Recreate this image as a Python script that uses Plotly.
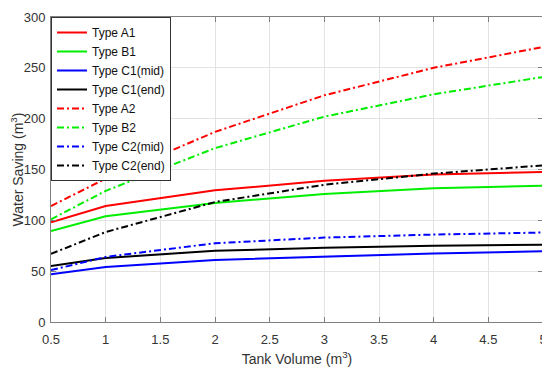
import plotly.graph_objects as go

tank_volume = [0.5, 1, 2, 3, 4, 5]
type_a1 = [98, 114, 129.5, 139, 145, 147.5]
type_b1 = [89.5, 104, 117, 126, 131.5, 134]
type_c1_mid = [47, 54, 61, 64.5, 67.5, 69.5]
type_c1_end = [55, 63, 70, 73, 75, 76]
type_a2 = [114, 141, 187, 223, 250, 270.5]
type_b2 = [101, 129, 171, 202, 224, 241]
type_c2_mid = [51, 64, 77.5, 83, 86, 88]
type_c2_end = [67, 88.5, 118, 135, 146, 154]

x_tick_values = [0.5, 1, 1.5, 2, 2.5, 3, 3.5, 4, 4.5, 5]
x_tick_labels = ["0.5", "1", "1.5", "2", "2.5", "3", "3.5", "4", "4.5", "5"]
y_tick_values = [0, 50, 100, 150, 200, 250, 300]

DASHDOT = "7px,3px,2px,3px"
series = [
    ("Type A1", type_a1, "#ff0000", "solid"),
    ("Type B1", type_b1, "#00ee00", "solid"),
    ("Type C1(mid)", type_c1_mid, "#0000ff", "solid"),
    ("Type C1(end)", type_c1_end, "#000000", "solid"),
    ("Type A2", type_a2, "#ff0000", DASHDOT),
    ("Type B2", type_b2, "#00ee00", DASHDOT),
    ("Type C2(mid)", type_c2_mid, "#0000ff", DASHDOT),
    ("Type C2(end)", type_c2_end, "#000000", DASHDOT),
]

fig = go.Figure()
for name, ys, color, dash in series:
    fig.add_trace(go.Scatter(x=tank_volume, y=ys, mode="lines", name=name,
                             line=dict(color=color, width=2, dash=dash)))

axis_common = dict(showgrid=True, gridcolor="#e3e3e3", gridwidth=1,
                   showline=True, linecolor="#808080", linewidth=1, mirror="ticks",
                   ticks="inside", ticklen=5, tickcolor="#808080",
                   tickfont=dict(family="Liberation Sans, Arial", size=13, color="#333333"),
                   ticklabeloverflow="allow",
                   zeroline=False)

fig.update_xaxes(range=[0.5, 5], tickvals=x_tick_values, ticktext=x_tick_labels,
                 ticklabelstandoff=5,
                 title=dict(text="Tank Volume (m<sup>3</sup>)", standoff=8,
                            font=dict(family="Liberation Sans, Arial", size=14, color="#333333")),
                 **axis_common)
fig.update_yaxes(range=[0, 300], tickvals=y_tick_values,
                 ticklabelstandoff=2,
                 title=dict(text="Water Saving (m<sup>3</sup>)", standoff=0,
                            font=dict(family="Liberation Sans, Arial", size=14, color="#333333")),
                 **axis_common)

fig.update_layout(
    width=542, height=361,
    margin=dict(l=43, r=7, t=2, b=47),
    plot_bgcolor="white", paper_bgcolor="white",
    legend=dict(x=0, y=1, xanchor="left", yanchor="top",
                bgcolor="white", bordercolor="#333333", borderwidth=1,
                font=dict(family="Liberation Sans, Arial", size=12, color="#111111"),
                tracegroupgap=0, itemwidth=30),
    showlegend=True,
)

fig.write_html("out.html")
